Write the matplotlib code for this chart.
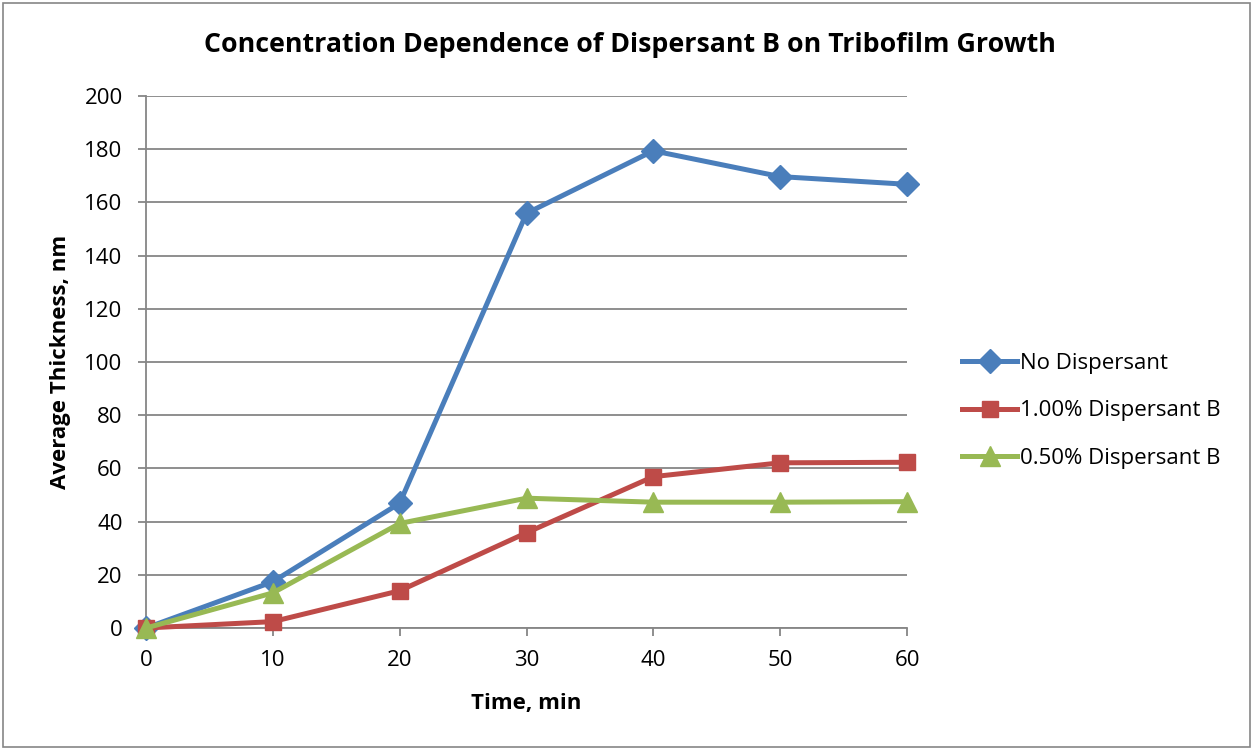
import matplotlib
matplotlib.use("Agg")
import matplotlib.pyplot as plt
from matplotlib.patches import Rectangle

time_min = [0, 10, 20, 30, 40, 50, 60]
no_dispersant = [0, 17.4, 46.9, 155.9, 179.4, 169.7, 166.8]
dispersant_b_100 = [0, 2.4, 14.0, 35.8, 56.9, 62.1, 62.3]
dispersant_b_050 = [0, 13.2, 39.3, 48.8, 47.3, 47.3, 47.5]

series_labels = ["No Dispersant", "1.00% Dispersant B", "0.50% Dispersant B"]
title = "Concentration Dependence of Dispersant B on Tribofilm Growth"
x_label = "Time, min"
y_label = "Average Thickness, nm"
x_ticks = [0, 10, 20, 30, 40, 50, 60]
y_ticks = [0, 20, 40, 60, 80, 100, 120, 140, 160, 180, 200]

plt.rcParams["font.family"] = ["Open Sans", "DejaVu Sans"]
bold_font = ["Open Sans", "DejaVu Sans"]

W, H = 1253, 750
fig = plt.figure(figsize=(W / 100, H / 100), dpi=100)
ax = fig.add_axes([146 / W, 1 - 628 / H, (907 - 146) / W, (628 - 96) / H])

grid_col = "#868686"
styles = [
    (no_dispersant, "#4A7EBB", "D", 12),
    (dispersant_b_100, "#BE4B48", "s", 12),
    (dispersant_b_050, "#98B954", "^", 14),
]
for (vals, col, mk, ms), lab in zip(styles, series_labels):
    ax.plot(time_min, vals, color=col, lw=3.6, marker=mk, ms=ms,
            markerfacecolor=col, markeredgecolor=col, label=lab,
            clip_on=False, zorder=3)

ax.set_xlim(0, 60)
ax.set_ylim(0, 200)
ax.set_xticks(x_ticks)
ax.set_yticks(y_ticks)
ax.yaxis.grid(True, color=grid_col, lw=1.3)
ax.set_axisbelow(True)
for s in ["top", "right"]:
    ax.spines[s].set_visible(False)
for s in ["left", "bottom"]:
    ax.spines[s].set_color(grid_col)
    ax.spines[s].set_linewidth(1.3)
ax.tick_params(axis="both", direction="out", length=5.8, width=1.3,
               color=grid_col, labelsize=16, labelcolor="black")
ax.tick_params(axis="x", pad=10)
ax.tick_params(axis="y", pad=11)

ax.set_xlabel(x_label, fontsize=16, fontweight="bold", family=bold_font)
ax.set_ylabel(y_label, fontsize=16, fontweight="bold", family=bold_font)
ax.xaxis.set_label_coords(0.5, -0.141)
ax.yaxis.set_label_coords(-0.112, 0.5)
ax.xaxis.label.set_va("center")
ax.yaxis.label.set_va("center")
fig.text(630 / W, 1 - 45 / H, title, ha="center", va="center",
         fontsize=19.25, fontweight="bold", family=bold_font)

ax.legend(loc="center left", bbox_to_anchor=(1.072, 0.408), frameon=False,
          fontsize=16, handlelength=2.5, handletextpad=0.1, labelspacing=1.2,
          borderaxespad=0, borderpad=0)

fig.patches.append(Rectangle((3 / W, 3 / H), 1 - 6 / W, 1 - 6 / H,
                             transform=fig.transFigure, fill=False,
                             edgecolor="#868686", lw=1.2))

fig.savefig("out.png", dpi=100, facecolor="white")
